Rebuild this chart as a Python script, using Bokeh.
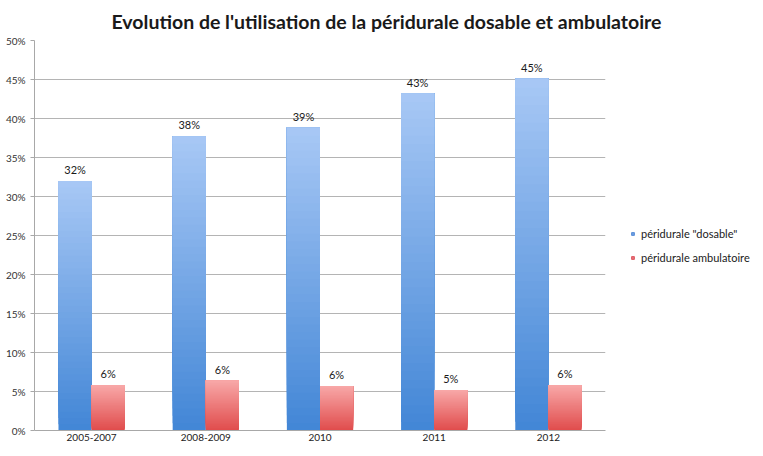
from bokeh.plotting import figure
from bokeh.models import (FactorRange, Range1d, PrintfTickFormatter, Legend, LegendItem,
                          ColumnDataSource, FixedTicker)
from bokeh.transform import dodge
from bokeh.core.properties import value
from bokeh.embed import file_html
from bokeh.resources import INLINE

# ---- data ----
categories = ["2005-2007", "2008-2009", "2010", "2011", "2012"]
dosable = [32.0, 37.7, 38.8, 43.2, 45.1]
ambulatoire = [5.8, 6.4, 5.7, 5.2, 5.8]
series_names = ['péridurale "dosable"', "péridurale ambulatoire"]
y_ticks = [0, 5, 10, 15, 20, 25, 30, 35, 40, 45, 50]

FONT = "Lato"
BAR_W = 0.29
N_SLICES = 40
FRAME_W = 571
FRAME_H = 390

blue_top, blue_bot = (168, 200, 245), (66, 134, 214)
red_top, red_bot = (248, 168, 168), (224, 76, 76)


def mix(c1, c2, t):
    return "#%02x%02x%02x" % tuple(int(round(a + (b - a) * t)) for a, b in zip(c1, c2))


def gradient_source(vals, ctop, cbot):
    # overlapping slices (each from its level up to the bar top) -> seamless gradient
    xs, bots, tops, cols = [], [], [], []
    for cat, v in zip(categories, vals):
        for k in range(N_SLICES):
            xs.append(cat)
            bots.append(v * k / N_SLICES)
            tops.append(v)
            cols.append(mix(cbot, ctop, (k + 0.5) / N_SLICES))
    return ColumnDataSource(dict(x=xs, bottom=bots, top=tops, color=cols))


p = figure(x_range=FactorRange(*categories), y_range=Range1d(0, 50),
           frame_width=FRAME_W, frame_height=FRAME_H,
           output_backend="svg", toolbar_location=None,
           min_border_left=34, min_border_right=0, min_border_top=34, min_border_bottom=0)

p.title.text = "Evolution de l'utilisation de la péridurale dosable et ambulatoire"
p.title.text_font = FONT
p.title.text_font_size = "19.5px"
p.title.text_font_style = "bold"
p.title.text_color = "#1a1a1a"
p.title.align = "left"
p.title.offset = 77
p.title.standoff = 15

p.outline_line_color = None
p.background_fill_color = "white"
p.border_fill_color = "white"

# axes
p.yaxis.ticker = FixedTicker(ticks=y_ticks)
p.yaxis.formatter = PrintfTickFormatter(format="%d%%")
p.yaxis.major_label_text_font = FONT
p.yaxis.major_label_text_font_size = "10px"
p.yaxis.major_label_text_color = "#333333"
p.yaxis.axis_line_color = "#a8a8a8"
p.yaxis.major_tick_line_color = "#a8a8a8"
p.yaxis.major_tick_out = 4
p.yaxis.major_tick_in = 0
p.yaxis.minor_tick_line_color = None
p.yaxis.major_label_standoff = 5

p.xaxis.major_label_text_font = FONT
p.xaxis.major_label_text_font_size = "10px"
p.xaxis.major_label_text_color = "#222222"
p.xaxis.axis_line_color = "#a8a8a8"
p.xaxis.major_tick_line_color = None
p.xaxis.major_tick_out = 0
p.xaxis.major_tick_in = 0
p.xaxis.major_label_standoff = 3

p.xgrid.grid_line_color = None
p.ygrid.grid_line_color = "#b4b4b4"
p.ygrid.grid_line_width = 1

# bars with vertical gradient
src_b = gradient_source(dosable, blue_top, blue_bot)
src_r = gradient_source(ambulatoire, red_top, red_bot)
p.vbar(x=dodge("x", -BAR_W / 2, range=p.x_range), bottom="bottom", top="top", width=BAR_W,
       source=src_b, fill_color="color", line_color=None)
p.vbar(x=dodge("x", BAR_W / 2, range=p.x_range), bottom="bottom", top="top", width=BAR_W,
       source=src_r, fill_color="color", line_color=None)

# value labels
lab_src = ColumnDataSource(dict(
    x=categories, d=dosable, a=ambulatoire,
    dl=["%d%%" % round(v) for v in dosable],
    al=["%d%%" % round(v) for v in ambulatoire]))
p.text(x=dodge("x", -BAR_W / 2, range=p.x_range), y="d", text="dl", source=lab_src,
       text_align="center", text_baseline="bottom", y_offset=-5,
       text_font=value(FONT), text_font_size="11px", text_color="#1a1a1a")
p.text(x=dodge("x", BAR_W / 2, range=p.x_range), y="a", text="al", source=lab_src,
       text_align="center", text_baseline="bottom", y_offset=-5,
       text_font=value(FONT), text_font_size="11px", text_color="#1a1a1a")

# legend swatches (off-range, only for the legend)
r_lb = p.scatter(x=[categories[0]], y=[-10], marker="square", size=7,
                 fill_color="#6f9fe2", line_color="#5a8fd8")
r_lr = p.scatter(x=[categories[0]], y=[-10], marker="square", size=7,
                 fill_color="#e8707a", line_color="#dd5a62")
legend = Legend(items=[LegendItem(label=series_names[0], renderers=[r_lb]),
                       LegendItem(label=series_names[1], renderers=[r_lr])],
                location=(24, 166), orientation="vertical",
                padding=0, margin=0, spacing=10, label_height=14,
                glyph_width=7, glyph_height=7, label_standoff=5,
                label_text_font=FONT, label_text_font_size="11px", label_text_color="#1a1a1a",
                border_line_color=None, background_fill_alpha=0)
p.add_layout(legend, "right")

open("out.html", "w").write(file_html(p, INLINE))
